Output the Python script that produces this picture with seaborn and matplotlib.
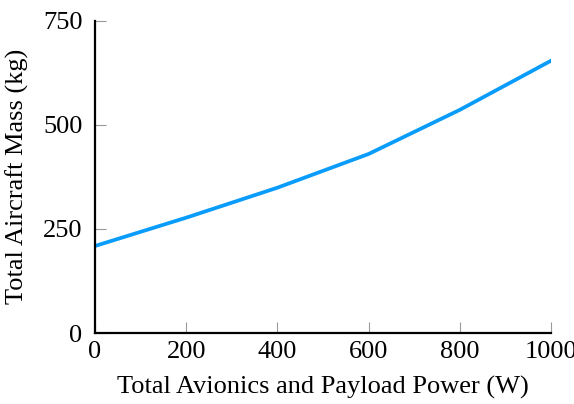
import pandas as pd
import seaborn as sns
import matplotlib.pyplot as plt

# values
power_w = [0, 200, 400, 600, 800, 1000]
mass_kg = [209, 277, 349, 430, 536, 654]
x_ticks = [0, 200, 400, 600, 800, 1000]
y_ticks = [0, 250, 500, 750]

df = pd.DataFrame({"power": power_w, "mass": mass_kg})

sns.set_style("ticks")
plt.rcParams["font.family"] = ["Liberation Serif", "DejaVu Serif"]
plt.rcParams["text.color"] = "black"
plt.rcParams["axes.labelcolor"] = "black"
plt.rcParams["xtick.labelcolor"] = "black"
plt.rcParams["ytick.labelcolor"] = "black"

fig = plt.figure(figsize=(5.74, 4.04), dpi=100)
ax = fig.add_axes([0.1655, 0.1757, 0.7945, 0.773])

sns.lineplot(data=df, x="power", y="mass", ax=ax, color="#0a9cfa", linewidth=2.7)

ax.set_xlim(0, 1000)
ax.set_ylim(0, 750)
ax.set_xticks(x_ticks)
ax.set_yticks(y_ticks)
ax.set_xlabel("Total Avionics and Payload Power (W)", fontsize=19, labelpad=9)
ax.set_ylabel("Total Aircraft Mass (kg)", fontsize=19, labelpad=10)

sns.despine(ax=ax)
for s in ["left", "bottom"]:
    ax.spines[s].set_linewidth(1.6)
    ax.spines[s].set_color("black")
ax.tick_params(direction="in", length=8, width=0.8, color="#999999",
               labelsize=19)
ax.tick_params(axis="x", pad=6)
ax.tick_params(axis="y", pad=9)
# the reference lets "1000" run past the right edge
for lbl in ax.get_xticklabels():
    lbl.set_clip_on(False)

fig.savefig("out.png", dpi=100)
